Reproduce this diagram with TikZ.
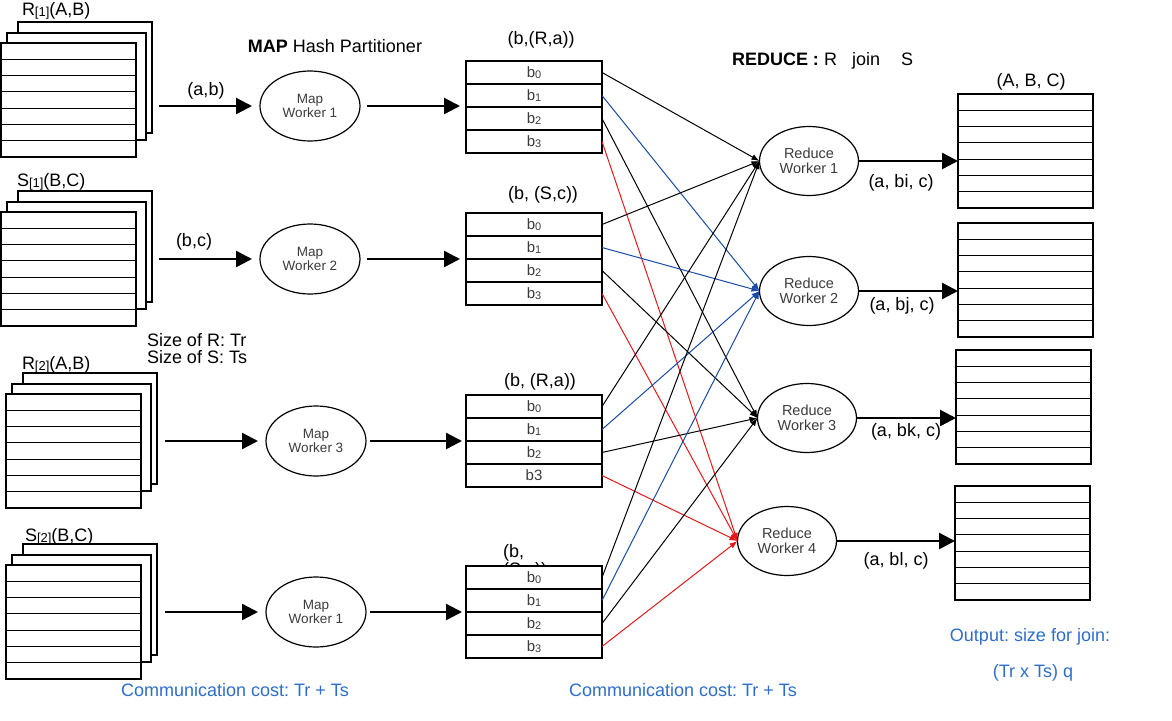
\documentclass[tikz,border=0pt]{standalone}
\usepackage{fontspec}
\setmainfont{Liberation Sans}
\usetikzlibrary{arrows.meta,calc,shapes.geometric}
\frenchspacing
\definecolor{txtblue}{RGB}{45,110,205}
\definecolor{lnblue}{RGB}{25,75,165}
\definecolor{lnred}{RGB}{228,25,25}
\definecolor{wtxt}{RGB}{60,60,60}
\newcommand\stk[3]{%
  \node[sheet,minimum width=134pt,minimum height=111pt] (#1c) at (#2+17,#3-21) {};
  \node[sheet,minimum width=139pt,minimum height=107pt] (#1b) at (#2+6,#3-10) {};
  \node[sheet,minimum width=135pt,minimum height=114pt] (#1a) at (#2,#3) {};
  \foreach \i in {1,...,6} \draw[rl] ($(#1a.north west)+(0,{\i*114/7})$) -- ++(135,0);
}
\newcommand\outtab[3]{%
  \node[sheet,minimum width=135pt,minimum height=114pt] (#1) at (#2,#3) {};
  \foreach \i in {1,...,6} \draw[rl] ($(#1.north west)+(0,{\i*114/7})$) -- ++(135,0);
}
\newcommand\sbr[1]{\raisebox{-1pt}{\fontsize{13}{13}\selectfont[#1]}}
\newcommand\sdig[1]{\raisebox{-1.5pt}{\fontsize{11}{11}\selectfont #1}}
\newcommand\bcell[2]{\ifnum#1=3 \ifnum#2=3 b3\else b\sdig{#2}\fi\else b\sdig{#2}\fi}
\begin{document}
\begin{tikzpicture}[x=1pt,y=-1pt,
  every node/.style={inner sep=0pt,outer sep=0pt,font=\fontsize{18}{20}\selectfont},
  sheet/.style={draw,fill=white,line width=1.2pt,anchor=north west,rectangle},
  rl/.style={line width=1.2pt},
  rowcell/.style={draw,fill=white,line width=1.2pt,rectangle,minimum width=136pt,minimum height=23pt,font=\fontsize{15}{15}\selectfont,text=wtxt},
  worker/.style={draw,ellipse,fill=white,line width=1.2pt,text=wtxt,align=center},
  mapw/.style={worker,minimum width=100pt,minimum height=70pt,font=\fontsize{13.5}{14}\selectfont},
  redw/.style={worker,minimum width=99pt,minimum height=69pt,font=\fontsize{14.5}{15}\selectfont},
  big/.style={line width=2.4pt,-{Triangle[length=16pt,width=16pt]}},
  link/.style={line width=1pt,-{Latex[length=8pt,width=6pt]}},
  note/.style={text=txtblue}]
\useasboundingbox (0,0) rectangle (1172,720);
\fill[white] (0,0) rectangle (1172,720);

% input stacks
\stk{sr1}{1}{43}
\stk{ss1}{1}{212}
\stk{sr2}{6}{394}
\stk{ss2}{6}{565}
\node[anchor=west] (lr1) at (22,11) {R\sbr{1}(A,B)};
\node[anchor=west] (ls1) at (17,182) {S\sbr{1}(B,C)};
\node[anchor=west] (lr2) at (22,365) {R\sbr{2}(A,B)};
\node[anchor=west] (ls2) at (25,537) {S\sbr{2}(B,C)};

\node (hmap) at (335,46) {\textbf{MAP} Hash Partitioner};
\node[anchor=west] (hred) at (732,61) {\textbf{REDUCE :} R\hspace{15pt}join\hspace{21pt}S};
\node[anchor=west] (sz1) at (147,340) {Size of R: Tr};
\node[anchor=west] (sz2) at (147,357) {Size of S: Ts};

% map workers
\node[mapw] (m1) at (310,106) {Map\\Worker 1};
\node[mapw] (m2) at (310,259) {Map\\Worker 2};
\node[mapw] (m3) at (316,441) {Map\\Worker 3};
\node[mapw] (m4) at (316,612) {Map\\Worker 1};

% table headers
\node (h1) at (541,40) {(b,(R,a))};
\node (h2) at (543,195) {(b, (S,c))};
\node (h3) at (540,382) {(b, (R,a))};
\node[anchor=base west] (h4a) at (503,557.5) {(b,};
\node[anchor=base west] (h4b) at (503,575.5) {(S,c))};

% bucket tables
\foreach \t/\y in {1/61,2/213,3/395,4/566}{
  \foreach \i in {0,...,3}{
    \node[rowcell] (b\t\i) at (534,{\y+11.5+23*\i}) {\bcell{\t}{\i}};
  }
}

% reduce workers
\node[redw] (r1) at (809,161) {Reduce\\Worker 1};
\node[redw] (r2) at (809,291) {Reduce\\Worker 2};
\node[redw] (r3) at (807,418) {Reduce\\Worker 3};
\node[redw] (r4) at (787,541) {Reduce\\Worker 4};

% output tables
\outtab{o1}{958}{94}
\outtab{o2}{958}{223}
\outtab{o3}{956}{350}
\outtab{o4}{955}{486}
\node (ho) at (1031,82) {(A, B, C)};

% input -> map
\draw[big,shorten <=7pt,shorten >=8pt] (m1.west -| sr1c.east) -- (m1.west);
\draw[big,shorten <=7pt,shorten >=8pt] (m2.west -| ss1c.east) -- (m2.west);
\draw[big,shorten <=8pt,shorten >=8pt] (m3.west -| sr2c.east) -- (m3.west);
\draw[big,shorten <=8pt,shorten >=8pt] (m4.west -| ss2c.east) -- (m4.west);
\node (e1) at (206,91) {(a,b)};
\node (e2) at (194,242) {(b,c)};

% map -> tables
\draw[big,shorten <=7pt,shorten >=6pt] (m1.east) -- (m1.east -| b10.west);
\draw[big,shorten <=7pt,shorten >=6pt] (m2.east) -- (m2.east -| b20.west);
\draw[big,shorten <=4pt,shorten >=4pt] (m3.east) -- (m3.east -| b30.west);
\draw[big,shorten <=4pt,shorten >=4pt] (m4.east) -- (m4.east -| b40.west);

% shuffle
\foreach \t in {1,...,4}{
  \draw[link] (b\t0.east) -- (r1.west);
  \draw[link,lnblue] (b\t1.east) -- (r2.west);
  \draw[link] (b\t2.east) -- (r3.west);
  \draw[link,lnred] (b\t3.east) -- (r4.west);
}

% reduce -> output
\draw[big] (r1.east) -- (r1.east -| o1.west);
\draw[big] (r2.east) -- (r2.east -| o2.west);
\draw[big] (r3.east) -- (r3.east -| o3.west);
\draw[big] (r4.east) -- (r4.east -| o4.west);
\node (f1) at (901,183) {(a, bi, c)};
\node (f2) at (902,306) {(a, bj, c)};
\node (f3) at (906,432) {(a, bk, c)};
\node (f4) at (896,561) {(a, bl, c)};

% notes
\node[note] (c1) at (235,690) {Communication cost: Tr + Ts};
\node[note] (c2) at (683,690) {Communication cost: Tr + Ts};
\node[note] (out1) at (1030,637) {Output: size for join:};
\node[note] (out2) at (1033,673) {(Tr x Ts) q};
\end{tikzpicture}
\end{document}
